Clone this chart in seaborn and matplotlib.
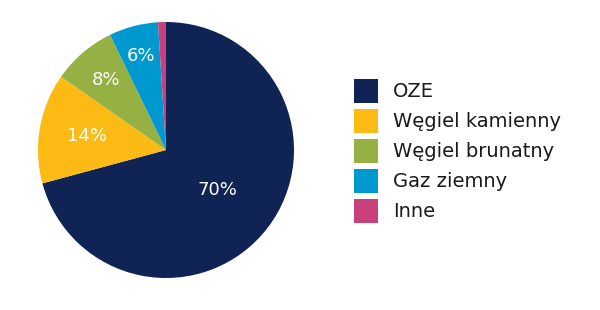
import numpy as np
import matplotlib
matplotlib.use("Agg")
import matplotlib.pyplot as plt
import matplotlib.patches as mpatches
import seaborn as sns

categories = ["OZE", "Węgiel kamienny", "Węgiel brunatny", "Gaz ziemny", "Inne"]
shares = [70.8, 13.9, 8.1, 6.2, 1.0]
pct_labels = ["70%", "14%", "8%", "6%", ""]
colors = ["#0f2354", "#fbbb14", "#95b043", "#0099cf", "#c9407f"]

sns.set_theme(style="white")
plt.rcParams['font.family'] = ['DejaVu Sans']

fig = plt.figure(figsize=(6, 3.1), dpi=100)
W, H = 600, 310
cx, cy, R = 166, 150, 128
ax = fig.add_axes([(cx - R) / W, (H - cy - R) / H, 2 * R / W, 2 * R / H])

wedges, _ = ax.pie(shares, colors=colors, startangle=90, counterclock=False,
                   radius=1, wedgeprops=dict(linewidth=0, edgecolor="none"))
ax.set_xlim(-1, 1)
ax.set_ylim(-1, 1)
ax.set_aspect("equal")
ax.axis("off")

label_dist = [0.51, 0.63, 0.72, 0.76, 0.8]
for w, lab, d in zip(wedges, pct_labels, label_dist):
    if not lab:
        continue
    ang = np.deg2rad((w.theta1 + w.theta2) / 2)
    ax.text(d * np.cos(ang), d * np.sin(ang), lab, color="white",
            ha="center", va="center", fontsize=13)

handles = [mpatches.Patch(facecolor=c, edgecolor="none") for c in colors]
fs = 14
fpx = fs * 100 / 72
box = 24
hh = (box - 0.245 * fpx) / (0.65 * fpx)
fig.legend(handles, categories, loc="upper left",
           bbox_to_anchor=(354 / W, 1 - 79 / H), frameon=False,
           fontsize=fs, handlelength=box / fpx, handleheight=hh,
           handletextpad=15 / fpx, labelspacing=6 / fpx,
           borderpad=0, borderaxespad=0, labelcolor="#1a1a1a")

fig.savefig("out.png", dpi=100)
